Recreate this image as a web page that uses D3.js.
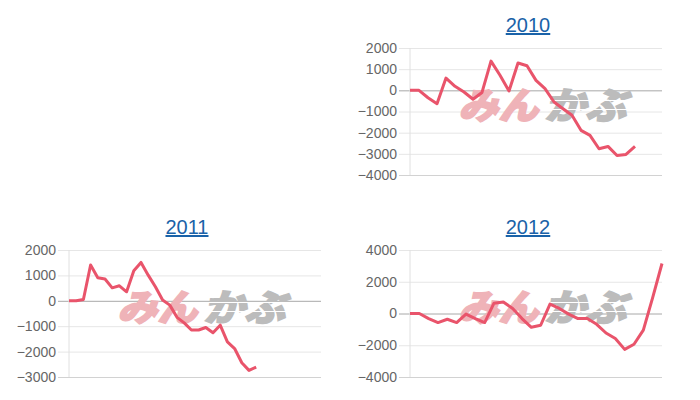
<!DOCTYPE html>
<head>
  <meta charset="utf-8">
  <script src="https://d3js.org/d3.v7.min.js"></script>
  <style>
    body { margin:0; background:#fff; }
    svg { font-family: "Liberation Sans", Arial, sans-serif; }
    .tick text { fill:#666; font-size:14px; }
    .title { fill:#1a62a8; font-size:20px; text-decoration: underline; }
  </style>
</head>
<body>
<svg width="700" height="400"></svg>

<script>
  // data (cumulative values, one point per period)
  var years = ["2010", "2011", "2012"];
  var values2010 = [0, 0, -350, -630, 580, 190, -80, -420, -100, 1380, 710, -30, 1290, 1160,
                    470, 80, -550, -870, -1180, -1890, -2130, -2760, -2650, -3080, -3030, -2650];
  var values2011 = [0, 0, 50, 1410, 910, 860, 510, 590, 355, 1180, 1510, 1010, 550, 30,
                    -170, -650, -870, -1150, -1150, -1050, -1260, -960, -1620, -1880, -2440, -2740, -2610];
  var values2012 = [0, 0, -320, -570, -360, -570, -40, -320, -570, 650, 730, 310, -320, -870,
                    -740, 590, 320, -40, -320, -320, -680, -1230, -1580, -2260, -1940, -1050, 1000, 3150];
  var ticks2010 = [2000, 1000, 0, -1000, -2000, -3000, -4000];
  var ticks2011 = [2000, 1000, 0, -1000, -2000, -3000];
  var ticks2012 = [4000, 2000, 0, -2000, -4000];
  var slots = [28, 35, 27];   // x domain length for each chart

  var panels = [
    { title: years[0], values: values2010, ticks: ticks2010, slots: slots[0], left: 410, right: 662, top: 48, bottom: 175, titleY: 32 },
    { title: years[1], values: values2011, ticks: ticks2011, slots: slots[1], left: 69, right: 321, top: 250, bottom: 377, titleY: 234 },
    { title: years[2], values: values2012, ticks: ticks2012, slots: slots[2], left: 410, right: 662, top: 250, bottom: 377, titleY: 234 }
  ];

  var svg = d3.select("svg");

  panels.forEach(function(p) {
    var w = p.right - p.left;
    var h = p.bottom - p.top;

    var x = d3.scaleLinear().domain([0, p.slots]).range([0, w]);
    var y = d3.scaleLinear().domain(d3.extent(p.ticks)).range([h, 0]);

    var g = svg.append("g").attr("transform", "translate(" + p.left + "," + p.top + ")");

    // title
    svg.append("text")
      .attr("class", "title")
      .attr("x", p.left + w / 2 - 8)
      .attr("y", p.titleY)
      .attr("text-anchor", "middle")
      .text(p.title);

    // y axis + grid
    var axis = g.append("g")
      .call(d3.axisLeft(y).tickValues(p.ticks).tickSize(0).tickPadding(13).tickFormat(d3.format("d")));
    axis.select(".domain").remove();
    axis.selectAll(".tick line")
      .attr("x1", -11)
      .attr("x2", w)
      .attr("stroke", function(d) { return d === 0 ? "#a8a8a8" : (d === p.ticks[p.ticks.length - 1] ? "#d2d2d2" : "#e6e6e6"); });
    axis.selectAll(".tick text").style("font-size", "14px").attr("fill", "#666");

    g.append("line")
      .attr("x1", 0).attr("x2", 0)
      .attr("y1", 0).attr("y2", h)
      .attr("stroke", "#e0e0e0");

    // watermark logo
    var cx = w / 2 + 10, cy = h / 2 - 7;
    var logo = g.append("g")
      .attr("transform", "translate(" + cx + "," + cy + ") skewX(-14)")
      .style("font-family", "'Noto Sans CJK JP', sans-serif")
      .style("font-weight", 900)
      .style("font-size", "37px");
    logo.append("text")
      .attr("x", -84).attr("y", 14)
      .attr("textLength", 80).attr("lengthAdjust", "spacingAndGlyphs")
      .attr("fill", "#efb3b8").attr("stroke", "#efb3b8").attr("stroke-width", 1.6)
      .text("みん");
    logo.append("text")
      .attr("x", 2).attr("y", 14)
      .attr("textLength", 82).attr("lengthAdjust", "spacingAndGlyphs")
      .attr("fill", "#bcbcbc").attr("stroke", "#bcbcbc").attr("stroke-width", 1.6)
      .text("かぶ");
    [-4, 5].forEach(function(dy) {
      logo.append("line")
        .attr("x1", 0).attr("x2", 90)
        .attr("y1", dy).attr("y2", dy)
        .attr("stroke", "#fff").attr("stroke-width", 1.2);
    });

    // series line
    var line = d3.line()
      .x(function(d, i) { return x(i); })
      .y(function(d) { return y(d); });

    g.append("path")
      .datum(p.values)
      .attr("d", line)
      .attr("fill", "none")
      .attr("stroke", "#e9546b")
      .attr("stroke-width", 3)
      .attr("stroke-linejoin", "round");
  });
</script>
</body>
